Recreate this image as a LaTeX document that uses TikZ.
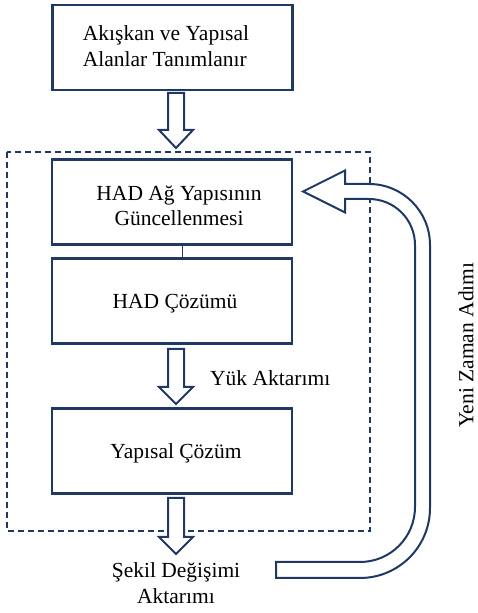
\documentclass[tikz,border=0pt]{standalone}
\usepackage{fontspec}
\setmainfont{Liberation Serif}
\definecolor{navy}{HTML}{1F3864}
\begin{document}
\begin{tikzpicture}[x=1pt,y=1pt,
  box/.style={draw=navy,line width=2.3pt,minimum width=240pt,minimum height=85pt,inner sep=0pt},
  txt/.style={font=\fontsize{21.5}{25.5}\selectfont,text=black,inner sep=0pt,align=center},
  blk/.style={draw=navy,line width=2pt,fill=white,line join=miter},
  dash box/.style={draw=navy,line width=1.3pt,dash pattern=on 6pt off 4pt}]
\useasboundingbox (0,0) rectangle (477,613);
% dashed frame
\draw[dash box] (7,461) rectangle (370,82);
% boxes
\node[box] (b1) at (172.5,565.5) {};
\node[box] (b2) at (172,411) {};
\node[box] (b3) at (172,312) {};
\node[box] (b4) at (172,162) {};
% texts
\node[txt,align=left] (t1) at (166,567) {Akışkan ve Yapısal\\Alanlar Tanımlanır};
\node[txt] (t2) at (179,407) {HAD Ağ Yapısının\\Güncellenmesi};
\node[txt] (t3) at (175,309) {HAD Çözümü};
\node[txt] (t4) at (176,160) {Yapısal Çözüm};
\node[txt,anchor=west] (tl) at (210,235) {Yük Aktarımı};
\node[txt] (ts) at (176,30) {Şekil Değişimi\\Aktarımı};
\node[txt,rotate=90] (ty) at (466,268) {Yeni Zaman Adımı};
% thin connector
\draw[navy,line width=1pt] ([xshift=10pt]b2.south) -- ([xshift=10pt]b3.north);
% block arrows
\newcommand\dnarr[4]{\draw[blk] (#1-8,#2) -- (#1+8,#2) -- (#1+8,#3) -- (#1+17,#3) -- (#1,#4) -- (#1-17,#3) -- (#1-8,#3) -- cycle;}
\dnarr{176}{520}{483}{465}
\dnarr{176}{264}{226}{209}
\dnarr{176}{115}{76}{59}
% U-turn arrow
\draw[blk] (276,35) -- (360,35) arc[start angle=-90,end angle=0,radius=70]
  -- (430,368) arc[start angle=0,end angle=90,radius=61]
  -- (345,429) -- (345,442.5) -- (303,421.5) -- (345,400.5) -- (345,414) -- (369,414)
  arc[start angle=90,end angle=0,radius=46]
  -- (415,106) arc[start angle=0,end angle=-90,radius=55]
  -- (276,51) -- cycle;
\end{tikzpicture}
\end{document}
